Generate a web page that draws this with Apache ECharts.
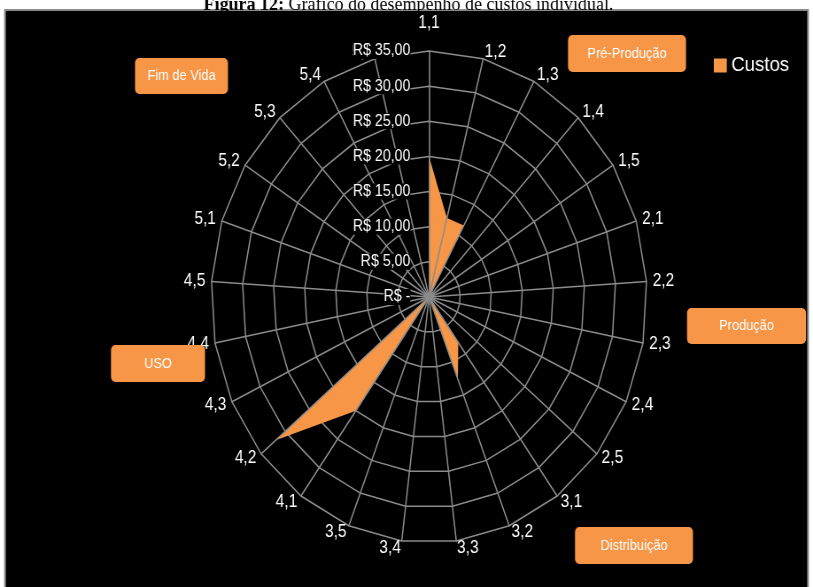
<!DOCTYPE html>
<html>
<head>
<meta charset="utf-8">
<script src="https://cdn.jsdelivr.net/npm/echarts@6/dist/echarts.min.js"></script>
<style>
  html, body { margin: 0; padding: 0; background: #fff; overflow: hidden; }
  /* the source picture is squeezed horizontally, so the whole canvas is squeezed too */
  #main { position: absolute; left: 0; top: 0; width: 918px; height: 587px;
          transform: scaleX(0.88562); transform-origin: 0 0; }
</style>
</head>
<body>
<div id="main"></div>
<script>
(function(){
  'use strict';

  // eixos do radar (sentido horario a partir do topo)
  var categories = ['1,1','1,2','1,3','1,4','1,5',
                    '2,1','2,2','2,3','2,4','2,5',
                    '3,1','3,2','3,3','3,4','3,5',
                    '4,1','4,2','4,3','4,4','4,5',
                    '5,1','5,2','5,3','5,4','5,5'];
  var custos = [20, 11.6, 11.6, 0, 0,
                0, 0, 0, 0, 0,
                8, 12.6, 0, 0, 0,
                20, 32, 0, 0, 0,
                0, 0, 0, 0, 0];
  var tickLabels = ['R$ -','R$ 5,00','R$ 10,00','R$ 15,00','R$ 20,00','R$ 25,00','R$ 30,00','R$ 35,00'];
  var stageLabels = ['Pré-Produção','Produção','Distribuição','USO','Fim de Vida'];

  var SX = 0.88562;            // horizontal squeeze of the page
  var ORANGE = '#F79646';
  var FONT = 'Liberation Sans';
  var cx = 429 / SX, cy = 297, R = 246;

  // echarts places radar indicators counter-clockwise: reverse all but the first
  var order = [0];
  for (var i = categories.length - 1; i > 0; i--) order.push(i);
  var indicator = order.map(function(i){ return {name: categories[i], min: 0, max: 35}; });
  var values = order.map(function(i){ return custos[i]; });

  function box(text, x, y, w, h){
    return {
      type: 'group', z: 100,
      children: [
        {type: 'rect', z: 100, shape: {x: x / SX, y: y, width: w / SX, height: h, r: 5},
         style: {fill: ORANGE}},
        {type: 'text', z: 101, x: (x + w / 2) / SX, y: y + h / 2,
         style: {text: text, fill: '#fff', fontSize: 14.5, fontFamily: FONT,
                 textAlign: 'center', textVerticalAlign: 'middle'}}
      ]
    };
  }

  var chart = echarts.init(document.getElementById('main'));
  chart.setOption({
    backgroundColor: '#fff',
    animation: false,
    legend: {
      data: ['Custos'], icon: 'rect',
      left: 801, top: 50, itemWidth: 14.7, itemHeight: 14, itemGap: 6,
      textStyle: {color: '#fff', fontSize: 21, fontFamily: FONT}
    },
    radar: {
      center: [cx, cy], radius: R, startAngle: 90,
      shape: 'polygon', splitNumber: 7,
      indicator: indicator,
      axisName: {
        color: '#fff', fontSize: 17.5, fontFamily: FONT,
        formatter: function(name){ return name === '1,1' ? '{top|' + name + '}' : name; },
        rich: {top: {color: '#fff', fontSize: 17.5, fontFamily: FONT, padding: [0, 0, 12, 0]}}
      },
      nameGap: 7,
      axisLine: {lineStyle: {color: '#8c8c8c', width: 1.5}},
      splitLine: {lineStyle: {color: '#8c8c8c', width: 1.5}},
      splitArea: {show: false},
      z: 2
    },
    polar: {center: [cx, cy], radius: R},
    angleAxis: {show: false, startAngle: 90, min: 0, max: 360},
    radiusAxis: {
      min: 0, max: 35, interval: 5, z: 10,
      axisLine: {show: false}, axisTick: {show: false}, splitLine: {show: false},
      axisLabel: {
        color: '#fff', fontSize: 16, fontFamily: FONT, margin: 21,
        backgroundColor: '#000',
        formatter: function(v){ return tickLabels[Math.round(v / 5)]; }
      }
    },
    graphic: [
      {type: 'rect', z: -10, shape: {x: 5 / SX, y: 10, width: 803 / SX, height: 590},
       style: {fill: '#000', stroke: '#8a8a8a', lineWidth: 2}},
      {type: 'text', z: 100, x: 408.5 / SX, y: 14, scaleX: 1 / SX,
       style: {text: '{b|Figura 12:} Gráfico do desempenho de custos individual.',
               fill: '#000', fontSize: 18, fontFamily: 'Liberation Serif',
               textAlign: 'center', textVerticalAlign: 'bottom',
               rich: {b: {fontWeight: 'bold', fontSize: 18, fontFamily: 'Liberation Serif', fill: '#000'}}}},
      box(stageLabels[0], 568, 35, 118, 37),
      box(stageLabels[1], 687, 308, 119, 36),
      box(stageLabels[2], 575, 527, 118, 37),
      box(stageLabels[3], 111, 345, 94, 37),
      box(stageLabels[4], 135, 58, 93, 36)
    ],
    series: [{
      name: 'Custos', type: 'radar',
      symbol: 'none',
      itemStyle: {color: ORANGE},
      lineStyle: {width: 0},
      areaStyle: {color: ORANGE, opacity: 1},
      data: [{value: values, name: 'Custos'}]
    }]
  });
})();
</script>
</body>
</html>
